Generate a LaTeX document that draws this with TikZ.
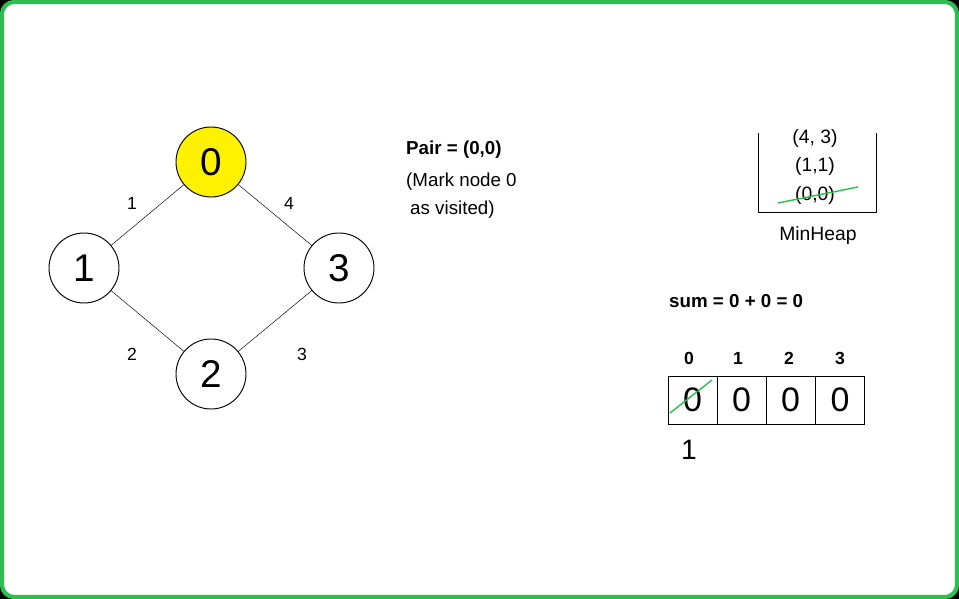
\documentclass[tikz,border=0pt]{standalone}
\usepackage{fontspec}
\setmainfont{Liberation Sans}
\begin{document}
\begin{tikzpicture}[x=0.03cm,y=-0.03cm,
  vert/.style={circle,draw,thick,minimum size=70*0.03cm,inner sep=0pt,font=\fontsize{33}{33}\selectfont},
  elab/.style={font=\fontsize{15}{15}\selectfont},
  txt/.style={font=\fontsize{16}{18}\selectfont,anchor=west,inner sep=0pt},
  cell/.style={draw,minimum width=49*0.03cm,minimum height=48*0.03cm,inner sep=0pt,font=\fontsize{29}{29}\selectfont},
  hd/.style={font=\bfseries\fontsize{15}{15}\selectfont}]
\definecolor{gr}{RGB}{46,190,80}
\fill[black] (0,0) rectangle (959,599);
\useasboundingbox (0,0) rectangle (959,599);
\draw[gr,line width=3.5*0.03cm*1.2,fill=white,rounded corners=12*0.03cm] (2,2) rectangle (957,597);
\node[vert,fill=yellow] (n0) at (211,162) {0};
\node[vert,fill=white] (n1) at (84,268) {1};
\node[vert,fill=white] (n3) at (339,268) {3};
\node[vert,fill=white] (n2) at (211,374) {2};
\draw (n0) -- (n1); \draw (n0) -- (n3); \draw (n1) -- (n2); \draw (n3) -- (n2);
\node[elab] (l1) at (132,203) {1};
\node[elab] (l4) at (289,203) {4};
\node[elab] (l2) at (132,354) {2};
\node[elab] (l3) at (302,354) {3};
\node[txt,font=\bfseries\fontsize{16}{18}\selectfont] (pair) at (406,150) {Pair = (0,0)};
\node[txt] (mk1) at (406,182) {(Mark node 0};
\node[txt] (mk2) at (410,210) {as visited)};
\coordinate (h1) at (758,133); \coordinate (h2) at (758,212);
\coordinate (h3) at (876,212); \coordinate (h4) at (876,133);
\draw[thick] (h1) -- (h2) -- (h3) -- (h4);
\node[elab,font=\fontsize{16.5}{16.5}\selectfont] (p1) at (815,138) {(4, 3)};
\node[elab,font=\fontsize{16.5}{16.5}\selectfont] (p2) at (815,166) {(1,1)};
\node[elab,font=\fontsize{16.5}{16.5}\selectfont] (p3) at (815,195) {(0,0)};
\draw[gr,line width=1.2pt] (778,203) -- (858,187);
\node[elab,font=\fontsize{16.5}{16.5}\selectfont] (mh) at (818,236) {MinHeap};
\node[txt,font=\bfseries\fontsize{16}{18}\selectfont] (sum) at (669,301) {sum = 0 + 0 = 0};
\node[hd] (a0) at (689,358) {0};
\node[hd] (a1) at (738,358) {1};
\node[hd] (a2) at (789,358) {2};
\node[hd] (a3) at (840,358) {3};
\node[cell] (c0) at (692.5,400) {0};
\node[cell] (c1) at (741.5,400) {0};
\node[cell] (c2) at (790.5,400) {0};
\node[cell] (c3) at (840,400) {0};
\draw[gr,line width=1.2pt] (670,413) -- (712,380);
\node[font=\fontsize{24}{24}\selectfont] (u) at (689,450) {1};
\end{tikzpicture}
\end{document}
